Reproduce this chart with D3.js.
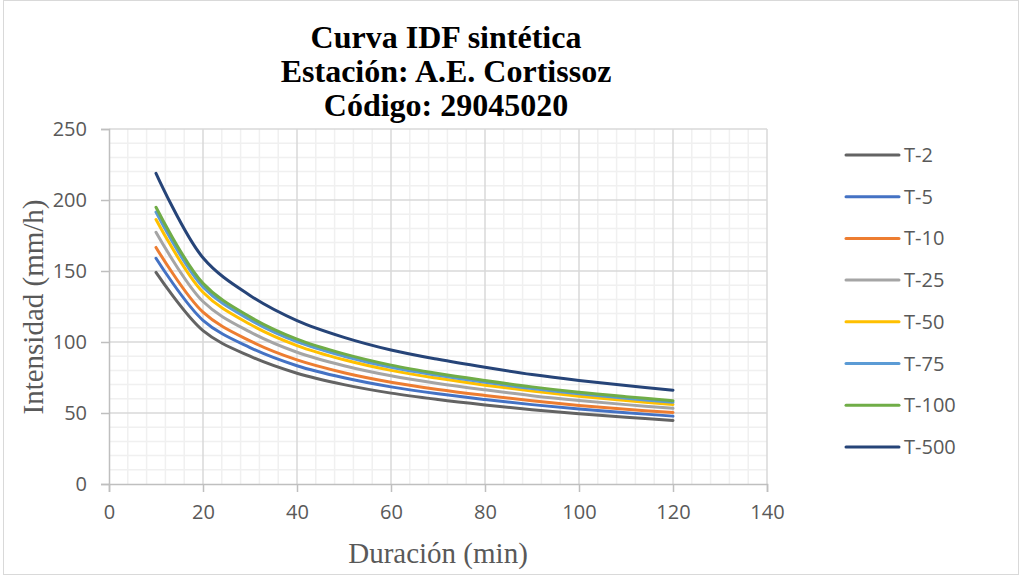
<!DOCTYPE html>
<html>
<head>
<meta charset="utf-8">
<script src="https://cdn.jsdelivr.net/npm/d3@7"></script>
<style>
  body { margin: 0; background: #fff; }
  svg { display: block; }
</style>
</head>
<body>
<svg id="chart"></svg>
<script>
const durations = [10, 20, 30, 40, 50, 60, 70, 80, 90, 100, 110, 120];
const seriesNames = ["T-2", "T-5", "T-10", "T-25", "T-50", "T-75", "T-100", "T-500"];
const t2   = [149.0, 108.0, 90.0, 78.0, 70.0, 64.0, 59.5, 55.7, 52.3, 49.4, 47.0, 44.8];
const t5   = [159.0, 115.3, 96.1, 83.3, 74.8, 68.4, 63.5, 59.5, 55.9, 52.8, 50.2, 47.8];
const t10  = [166.6, 121.0, 100.8, 87.4, 78.4, 71.7, 66.6, 62.4, 58.6, 55.3, 52.6, 50.4];
const t25  = [177.3, 128.5, 107.1, 92.8, 83.3, 76.2, 70.8, 66.3, 62.2, 58.8, 55.9, 53.3];
const t50  = [186.3, 135.0, 112.5, 97.5, 87.5, 80.0, 74.4, 69.6, 65.4, 61.8, 58.8, 56.0];
const t75  = [191.5, 138.8, 115.7, 100.2, 90.0, 82.2, 76.5, 71.6, 67.2, 63.5, 60.4, 57.6];
const t100 = [194.9, 141.3, 117.7, 102.0, 91.6, 83.7, 77.8, 72.9, 68.4, 64.6, 61.5, 58.7];
const t500 = [218.8, 159.3, 132.8, 115.1, 103.3, 94.4, 87.8, 82.2, 77.1, 72.9, 69.3, 66.1];
const xTicks = [0, 20, 40, 60, 80, 100, 120, 140];
const yTicks = [0, 50, 100, 150, 200, 250];

const allValues = [t2, t5, t10, t25, t50, t75, t100, t500];
const colors = ["#636363", "#4472C4", "#ED7D31", "#A5A5A5", "#FFC000", "#5B9BD5", "#70AD47", "#264478"];

const w = 1021, h = 575;
const svg = d3.select("#chart").attr("width", w).attr("height", h);

// chart border
svg.append("rect")
   .attr("x", 3.5).attr("y", 0.5)
   .attr("width", w - 6).attr("height", h - 1)
   .attr("fill", "#fff").attr("stroke", "#d9d9d9");

const x = d3.scaleLinear().domain([0, 140]).range([109, 767]);
const y = d3.scaleLinear().domain([0, 250]).range([484, 129]);

// minor grid
const grid = svg.append("g");
grid.selectAll(".vminor")
    .data(d3.range(0, 141, 4).filter(v => v % 20 !== 0))
    .enter().append("line")
    .attr("x1", d => x(d)).attr("x2", d => x(d))
    .attr("y1", y(0)).attr("y2", y(250))
    .attr("stroke", "#f0f0f0").attr("stroke-width", 1.5);
grid.selectAll(".hminor")
    .data(d3.range(0, 251, 10).filter(v => v % 50 !== 0))
    .enter().append("line")
    .attr("x1", x(0)).attr("x2", x(140))
    .attr("y1", d => y(d)).attr("y2", d => y(d))
    .attr("stroke", "#f0f0f0").attr("stroke-width", 1.5);

// major grid
grid.selectAll(".vmajor")
    .data(xTicks.slice(1))
    .enter().append("line")
    .attr("x1", d => x(d)).attr("x2", d => x(d))
    .attr("y1", y(0)).attr("y2", y(250))
    .attr("stroke", "#d9d9d9").attr("stroke-width", 1.5);
grid.selectAll(".hmajor")
    .data(yTicks.slice(1))
    .enter().append("line")
    .attr("x1", x(0)).attr("x2", x(140))
    .attr("y1", d => y(d)).attr("y2", d => y(d))
    .attr("stroke", "#d9d9d9").attr("stroke-width", 1.5);

// axes
const xAxis = svg.append("g")
   .attr("transform", `translate(0,${y(0)})`)
   .call(d3.axisBottom(x).tickValues(xTicks).tickSize(8).tickPadding(13));
const yAxis = svg.append("g")
   .attr("transform", `translate(${x(0)},0)`)
   .call(d3.axisLeft(y).tickValues(yTicks).tickSize(8).tickPadding(14));

[xAxis, yAxis].forEach(ax => {
  ax.select(".domain").attr("stroke", "#bfbfbf").attr("stroke-width", 1.5);
  ax.selectAll(".tick line").attr("stroke", "#bfbfbf").attr("stroke-width", 1.5);
  ax.selectAll(".tick text")
    .attr("fill", "#595959")
    .style("font-family", "'Open Sans', sans-serif")
    .style("font-size", "20px");
});

// series lines
const line = d3.line()
   .x((d, i) => x(durations[i]))
   .y(d => y(d))
   .curve(d3.curveCatmullRom.alpha(0.5));

svg.append("g").selectAll("path")
   .data(allValues)
   .enter().append("path")
   .attr("d", d => line(d))
   .attr("fill", "none")
   .attr("stroke", (d, i) => colors[i])
   .attr("stroke-width", 3)
   .attr("stroke-linecap", "round")
   .attr("stroke-linejoin", "round");

// title
const title = svg.append("text")
   .attr("text-anchor", "middle")
   .style("font-family", "'Liberation Serif', 'Times New Roman', serif")
   .style("font-weight", "bold")
   .style("font-size", "32px")
   .attr("fill", "#000");
["Curva IDF sintética", "Estación: A.E. Cortissoz", "Código: 29045020"].forEach((t, i) => {
  title.append("tspan").attr("x", 446).attr("y", 48 + i * 34).text(t);
});

// axis titles
svg.append("text")
   .attr("x", 438).attr("y", 563)
   .attr("text-anchor", "middle")
   .attr("fill", "#595959")
   .style("font-family", "'Liberation Serif', 'Times New Roman', serif")
   .style("font-size", "29px")
   .text("Duración (min)");

svg.append("text")
   .attr("transform", "translate(43,307) rotate(-90)")
   .attr("text-anchor", "middle")
   .attr("fill", "#595959")
   .style("font-family", "'Liberation Serif', 'Times New Roman', serif")
   .style("font-size", "29px")
   .text("Intensidad (mm/h)");

// legend
const legend = svg.append("g").selectAll("g")
   .data(seriesNames)
   .enter().append("g")
   .attr("transform", (d, i) => `translate(846,${155 + i * 41.7})`);
legend.append("line")
   .attr("x1", 0).attr("x2", 53)
   .attr("stroke", (d, i) => colors[i])
   .attr("stroke-width", 3)
   .attr("stroke-linecap", "round");
legend.append("text")
   .attr("x", 58).attr("dy", "0.35em")
   .attr("fill", "#595959")
   .style("font-family", "'Open Sans', sans-serif")
   .style("font-size", "20px")
   .text(d => d);
</script>
</body>
</html>
